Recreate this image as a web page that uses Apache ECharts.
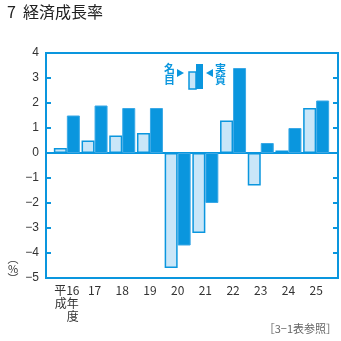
<!DOCTYPE html>
<html><head><meta charset="utf-8">
<script src="https://cdn.jsdelivr.net/npm/echarts@6/dist/echarts.min.js"></script>
<style>html,body{margin:0;padding:0;background:#fff}#c{width:341px;height:341px}</style>
</head><body><div id="c"></div>
<script>
const categories = ['平16\n成年\n　度','17','18','19','20','21','22','23','24','25'];
const nominal = [0.2, 0.5, 0.7, 0.8, -4.6, -3.2, 1.3, -1.3, 0.1, 1.8];
const real = [1.5, 1.9, 1.8, 1.8, -3.7, -2.0, 3.4, 0.4, 1.0, 2.1];
const yTicks = [-5,-4,-3,-2,-1,0,1,2,3,4];

const BLUE = '#0a96de';
const LIGHT = '#c9e6f8';
const FONT = '"Noto Sans CJK JP", "Liberation Sans", sans-serif';
const chart = echarts.init(document.getElementById('c'), null, {renderer:'canvas'});
chart.setOption({
  animation:false,
  grid:[
    {left:46, right:3, top:53, bottom:63, show:true, borderColor:BLUE, borderWidth:2, backgroundColor:'transparent'},
    {left:53, right:11, top:53, bottom:63}
  ],
  xAxis:[
    {gridIndex:0, type:'value', min:0, max:1, axisLine:{show:true, onZero:true, lineStyle:{color:BLUE, width:2}}, axisTick:{show:false}, axisLabel:{show:false}, splitLine:{show:false}},
    {gridIndex:1, type:'category', data:categories, axisLine:{show:false}, axisTick:{show:false},
     axisLabel:{color:'#333', fontSize:12, fontFamily:FONT, margin:6, lineHeight:13, interval:0}}
  ],
  yAxis:[
    {gridIndex:0, type:'value', min:-5, max:4, interval:1, position:'left',
     axisLine:{show:true, lineStyle:{color:BLUE, width:2}},
     axisTick:{show:true, inside:true, length:5, lineStyle:{color:BLUE, width:2}},
     axisLabel:{color:'#333', fontSize:12, fontFamily:'"Liberation Sans", sans-serif', margin:7, formatter:v=> v<0 ? '\u2212'+Math.abs(v) : String(v)},
     splitLine:{show:false}},
    {gridIndex:0, type:'value', min:-5, max:4, interval:1, position:'right',
     axisLine:{show:true, lineStyle:{color:BLUE, width:2}},
     axisTick:{show:true, inside:true, length:5, lineStyle:{color:BLUE, width:2}},
     axisLabel:{show:false}, splitLine:{show:false}},
    {gridIndex:1, type:'value', min:-5, max:4, show:false}
  ],
  series:[
    {type:'bar', name:'名目', xAxisIndex:1, yAxisIndex:2, data:nominal, barWidth:13, barGap:'0%',
     itemStyle:{color:LIGHT, borderColor:BLUE, borderWidth:1.5}},
    {type:'bar', name:'実質', xAxisIndex:1, yAxisIndex:2, data:real, barWidth:13, barGap:'0%',
     itemStyle:{color:BLUE, borderColor:'#3aa8e6', borderWidth:1}}
  ],
  graphic:[
    {type:'text', left:7, top:4, style:{text:'7  経済成長率', fontSize:16, fontFamily:FONT, fill:'#222'}},
    {type:'text', x:164, y:63, style:{text:'名\n目', fontSize:11, lineHeight:11, fontFamily:FONT, fill:BLUE, fontWeight:'bold'}},
    {type:'polygon', shape:{points:[[177,69],[184,73],[177,77]]}, style:{fill:BLUE}},
    {type:'rect', shape:{x:189, y:72, width:7, height:17}, style:{fill:LIGHT, stroke:BLUE, lineWidth:1.5}},
    {type:'rect', shape:{x:196, y:64, width:7, height:25}, style:{fill:BLUE}},
    {type:'polygon', shape:{points:[[213,69],[206,73],[213,77]]}, style:{fill:BLUE}},
    {type:'text', x:215, y:63, style:{text:'実\n質', fontSize:11, lineHeight:11, fontFamily:FONT, fill:BLUE, fontWeight:'bold'}},
    {type:'text', x:8, y:254, style:{text:'︵\n%\n︶', fontSize:11, lineHeight:10, align:'center', fontFamily:FONT, fill:'#333', x:5}},
    {type:'text', right:4, top:323, style:{text:'［3−1表参照］', fontSize:11, fontFamily:FONT, fill:'#666'}}
  ]
});
</script></body></html>
